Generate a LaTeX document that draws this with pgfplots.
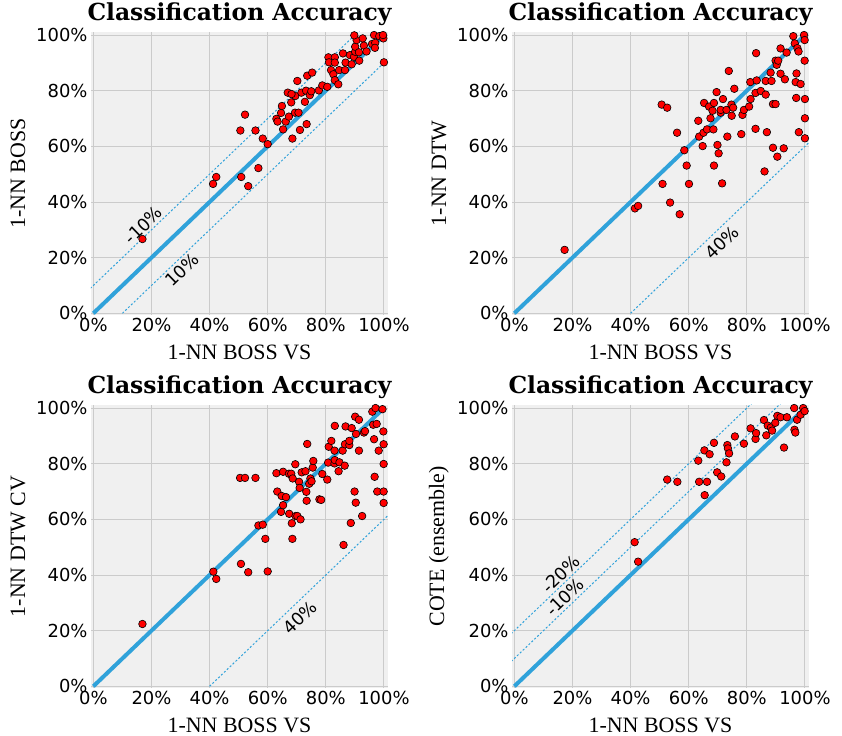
\documentclass[border=0pt]{standalone}
\usepackage{fontspec}
\setmainfont{DejaVu Sans}
\newfontfamily\titlefont{DejaVu Serif}
\newfontfamily\labfont{Liberation Serif}
\usepackage{pgfplots}
\pgfplotsset{compat=1.18}
\definecolor{bg}{HTML}{F0F0F0}
\definecolor{gridc}{HTML}{CBCBCB}
\definecolor{lineb}{HTML}{30A2DA}
\tikzset{lab/.style={rotate=44, font=\fontsize{17.5}{19}\selectfont, text=black, inner sep=1pt}}
\pgfplotsset{
 acc/.style={
  width=297bp, height=283bp, scale only axis,
  xmin=-0.8, xmax=101.4, ymin=-0.6, ymax=101.1,
  axis background/.style={fill=bg},
  axis line style={draw=none},
  grid=major, major grid style={gridc, line width=1bp},
  major tick length=0pt,
  xtick={0,20,...,100}, ytick={0,20,...,100},
  xticklabels={0\%,20\%,40\%,60\%,80\%,100\%},
  yticklabels={0\%,20\%,40\%,60\%,80\%,100\%},
  ticklabel style={font=\fontsize{18}{20}\selectfont},
  title style={font=\titlefont\bfseries\fontsize{23.5}{25}\selectfont, at={(axis description cs:0.5,1)}, anchor=base, yshift=6bp},
  label style={font=\labfont\fontsize{22}{24}\selectfont},
  xlabel style={at={(axis description cs:0.5,-0.131)}, anchor=center},
  ylabel style={at={(axis description cs:-0.246,0.5)}, anchor=center},
  title=Classification Accuracy, xlabel=1-NN BOSS VS,
 },
 pts/.style={only marks, mark=*, mark size=3.8bp, mark options={fill=red, draw=black, line width=0.6bp}},
 diag/.style={lineb, line width=4bp},
 dsh/.style={lineb, line width=1bp, dash pattern=on 2bp off 2bp},
}
\begin{document}
\begin{tikzpicture}
\useasboundingbox (0,0) rectangle (842bp,736bp);
% Panel 1
\begin{axis}[acc, at={(91bp,421bp)}, anchor=south west, ylabel={1-NN BOSS}]
\addplot[diag] coordinates {(0,0) (100,100)};
\addplot[dsh] coordinates {(-10,0) (100,110)};
\addplot[dsh] coordinates {(10,0) (110,100)};
\addplot[pts] coordinates {
(16.9,26.7) (41.2,46.5) (42.3,49.0) (50.9,49.0) (53.3,45.7) (56.8,52.2)
(50.6,65.7) (52.2,71.4) (55.8,65.7) (58.3,62.8) (60.0,60.8) (63.0,69.9)
(63.4,68.9) (64.6,72.0) (64.9,74.5) (65.3,66.1) (66.2,68.9) (67.3,70.7)
(68.5,62.8) (69.4,72.1) (70.6,72.1) (71.1,65.9) (73.4,68.0) (68.1,75.8)
(69.5,78.1) (66.9,79.3) (68.2,78.8) (70.2,83.5) (71.6,79.3) (72.8,76.0)
(73.2,80.0) (74.5,78.4) (75.0,79.8) (73.6,85.4) (75.3,86.5) (77.6,80.1)
(78.8,81.9) (80.5,81.4) (80.9,92.0) (81.1,90.2) (83.1,92.0) (83.1,90.1)
(81.8,87.4) (82.6,85.9) (83.1,83.8) (84.3,82.3) (84.6,87.4) (86.6,87.4)
(85.9,93.4) (86.8,90.1) (88.3,92.8) (88.9,89.5) (89.7,92.2) (90.1,94.0)
(90.1,95.8) (90.6,98.2) (91.5,90.8) (91.4,93.8) (89.8,99.9) (92.7,98.8)
(93.1,96.2) (94.0,94.1) (95.9,96.8) (96.6,100) (97.0,97.2) (96.9,95.4)
(98.4,99.6) (99.8,98.8) (100,90.2) (99.7,100)
};
\node[lab] at (axis cs:17.2,31.7) {-10\%};
\node[lab] at (axis cs:30.4,15.6) {10\%};
\end{axis}
% Panel 2
\begin{axis}[acc, at={(512bp,421bp)}, anchor=south west, ylabel={1-NN DTW}]
\addplot[diag] coordinates {(0,0) (100,100)};
\addplot[dsh] coordinates {(40,0) (140,100)};
\addplot[pts] coordinates {
(17.3,22.8) (41.5,37.7) (42.6,38.6) (51.0,46.5) (50.7,75.0) (52.6,73.9)
(53.6,39.8) (56.0,64.9) (56.9,35.6) (58.5,58.6) (59.3,53.1) (60.1,46.5)
(63.3,69.2) (63.6,63.5) (64.8,60.1) (65.1,64.9) (65.3,75.6) (66.3,66.1)
(67.0,74.3) (67.5,70.1) (68.2,72.8) (68.5,66.1) (68.7,53.1) (68.7,75.6)
(69.6,79.5) (69.9,60.5) (70.3,57.5) (71.0,72.1) (71.0,73.1) (71.5,46.7)
(71.8,77.0) (73.0,73.1) (73.3,63.5) (73.8,87.1) (74.7,75.0) (74.8,71.0)
(75.3,73.9) (75.7,80.7) (78.1,64.4) (78.5,71.3) (79.0,73.1) (80.8,74.3)
(81.3,77.0) (81.2,83.1) (83.0,66.3) (83.0,79.2) (83.2,93.5) (83.4,83.7)
(84.8,79.9) (86.5,78.6) (86.5,83.5) (86.9,65.1) (86.1,51.0) (88.2,86.5)
(88.5,83.5) (89.0,59.5) (89.0,75.2) (89.9,75.2) (89.9,90.8) (90.3,89.3)
(90.5,56.3) (90.8,90.8) (91.6,86.1) (91.6,95.2) (92.7,59.3) (93.1,84.1)
(93.7,93.7) (96.0,99.6) (96.5,97.0) (96.8,83.1) (97.1,86.2) (97.0,77.4)
(97.4,95.3) (97.8,94.1) (97.9,65.1) (98.5,82.4) (99.7,100) (99.9,98.2)
(99.9,90.8) (100,77.0) (100,70.1) (100,62.9)
};
\node[lab] at (axis cs:71.4,25.4) {40\%};
\end{axis}
% Panel 3
\begin{axis}[acc, at={(91bp,48bp)}, anchor=south west, ylabel={1-NN DTW CV}]
\addplot[diag] coordinates {(0,0) (100,100)};
\addplot[dsh] coordinates {(40,0) (140,100)};
\addplot[pts] coordinates {
(16.9,22.4) (41.3,41.2) (42.3,38.6) (50.8,44.0) (53.3,41.0) (60.0,41.3)
(50.5,74.9) (52.2,74.9) (55.8,74.9) (56.8,57.8) (58.3,58.1) (59.2,53.0)
(63.0,76.6) (63.3,70.0) (64.6,62.7) (64.8,68.4) (65.3,77.1) (65.3,65.1)
(66.3,68.0) (67.3,76.4) (67.4,62.0) (68.1,76.4) (68.3,58.6) (68.5,53.0)
(68.6,74.7) (69.5,79.8) (69.6,61.2) (70.2,61.2) (70.8,73.5) (71.0,71.3)
(71.3,60.0) (71.7,76.9) (73.0,77.3) (73.3,69.9) (73.4,66.7) (73.6,87.1)
(74.3,72.8) (74.7,74.7) (75.1,73.7) (75.5,78.6) (75.7,81.0) (77.8,67.2)
(78.4,67.0) (78.8,76.3) (80.5,74.3) (80.8,80.4) (81.0,86.1) (81.9,88.2)
(83.0,84.7) (83.0,80.1) (83.1,93.6) (83.1,81.3) (84.4,77.3) (84.7,80.5)
(85.8,84.7) (86.1,50.8) (86.5,79.3) (86.8,93.4) (86.6,87.0) (88.1,86.7)
(88.1,88.2) (88.6,58.7) (88.9,92.8) (89.9,70.0) (90.3,66.0) (90.1,96.9)
(90.4,90.7) (91.4,95.8) (91.4,84.7) (92.5,61.2) (93.1,91.2) (93.5,91.7)
(96.0,98.7) (96.3,94.0) (96.6,88.8) (96.8,75.3) (97.1,100) (97.5,94.3)
(97.7,70.0) (98.2,84.7) (99.5,99.6) (99.8,91.6) (99.9,87.0) (99.9,79.9)
(99.9,70.0) (99.9,65.9)
};
\node[lab] at (axis cs:71.1,24.7) {40\%};
\end{axis}
% Panel 4
\begin{axis}[acc, at={(512bp,48bp)}, anchor=south west, ylabel={COTE (ensemble)}]
\addplot[diag] coordinates {(0,0) (100,100)};
\addplot[dsh] coordinates {(-20,0) (100,120)};
\addplot[dsh] coordinates {(-10,0) (100,110)};
\addplot[pts] coordinates {
(41.4,51.8) (42.6,44.8) (52.6,74.3) (56.1,73.5) (63.3,81.1) (63.6,73.5)
(65.5,68.7) (65.4,84.8) (66.3,73.5) (67.2,83.4) (68.7,87.5) (69.8,76.9)
(71.2,75.4) (73.0,80.5) (73.3,86.7) (73.5,85.5) (73.9,83.7) (75.9,89.8)
(79.0,87.2) (81.3,92.7) (83.0,88.9) (83.2,91.0) (85.9,95.7) (86.7,90.2)
(87.2,93.7) (88.3,93.0) (88.7,91.9) (89.8,94.7) (90.5,97.2) (91.6,96.7)
(92.8,85.8) (93.8,96.7) (96.3,100) (96.4,92.2) (96.7,91.2) (97.3,95.8)
(98.5,97.6) (99.4,100) (99.9,98.9)
};
\node[lab] at (axis cs:16.0,40.4) {-20\%};
\node[lab] at (axis cs:17.5,32.1) {-10\%};
\end{axis}
\end{tikzpicture}
\end{document}
